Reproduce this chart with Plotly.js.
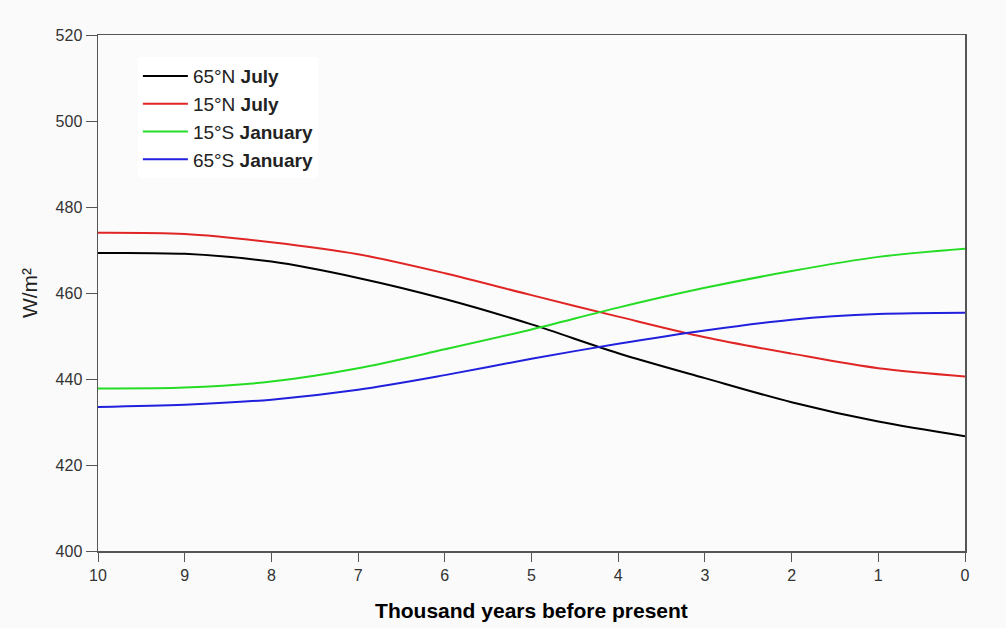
<!DOCTYPE html>
<html>
<head>
<meta charset="utf-8">
<script src="https://cdn.plot.ly/plotly-3.0.1.min.js"></script>
<style>html,body{margin:0;padding:0;background:#fafafa;}#chart{width:1006px;height:628px;}</style>
</head>
<body>
<div id="chart"></div>
<script>
// Thousand years before present
var years = [10, 9, 8, 7, 6, 5, 4, 3, 2, 1, 0];
// Insolation W/m²
var n65July   = [469.3, 469.1, 467.3, 463.5, 458.6, 452.7, 446.0, 440.2, 434.6, 430.1, 426.7];
var n15July   = [474.0, 473.7, 471.8, 469.0, 464.6, 459.5, 454.5, 449.7, 445.9, 442.5, 440.6];
var s15Jan    = [437.8, 438.0, 439.4, 442.5, 446.9, 451.5, 456.6, 461.2, 465.1, 468.4, 470.3];
var s65Jan    = [433.5, 434.0, 435.2, 437.5, 440.9, 444.7, 448.2, 451.3, 453.8, 455.1, 455.4];

var seriesNames = ['65°N <b>July</b>', '15°N <b>July</b>', '15°S <b>January</b>', '65°S <b>January</b>'];
var seriesData = [n65July, n15July, s15Jan, s65Jan];
var seriesColors = ['#000000', '#e02525', '#25dd25', '#2020dd'];

var traces = seriesData.map(function (ys, i) {
  return {
    x: years, y: ys, type: 'scatter', mode: 'lines', name: seriesNames[i],
    line: {color: seriesColors[i], width: 2, shape: 'spline', smoothing: 0.9}
  };
});

var layout = {
  width: 1006, height: 628,
  margin: {l: 98, r: 41, t: 35, b: 77},
  paper_bgcolor: '#fafafa', plot_bgcolor: '#fbfbfb',
  font: {family: 'Liberation Sans, Arial, sans-serif', color: '#333'},
  showlegend: true,
  legend: {
    x: 0.046, y: 0.957, xanchor: 'left', yanchor: 'top',
    bgcolor: 'rgba(255,255,255,0.95)', borderwidth: 0,
    font: {size: 19, color: '#222', family: 'Liberation Sans, Arial, sans-serif'},
    tracegroupgap: 0, itemwidth: 45
  },
  xaxis: {
    range: [10, 0], tickvals: years, ticktext: years.map(String),
    ticks: 'outside', ticklen: 9, tickcolor: '#555', tickwidth: 1,
    showline: true, linecolor: '#555', linewidth: 1.5, mirror: true,
    showgrid: false, zeroline: false,
    tickfont: {size: 16, color: '#333'},
    title: {text: '<b>Thousand years before present</b>', standoff: 20,
            font: {size: 21, color: '#000', family: 'Liberation Sans, Arial, sans-serif'}}
  },
  yaxis: {
    range: [400, 520], tickvals: [400, 420, 440, 460, 480, 500, 520],
    ticks: 'outside', ticklen: 11, tickcolor: '#555', tickwidth: 1,
    showline: true, linecolor: '#555', linewidth: 1.5, mirror: true,
    showgrid: false, zeroline: false,
    tickfont: {size: 16, color: '#333'},
    title: {text: 'W/m²', standoff: 12, font: {size: 21, color: '#222'}}
  }
};

Plotly.newPlot('chart', traces, layout, {displayModeBar: false, staticPlot: true});
</script>
</body>
</html>
